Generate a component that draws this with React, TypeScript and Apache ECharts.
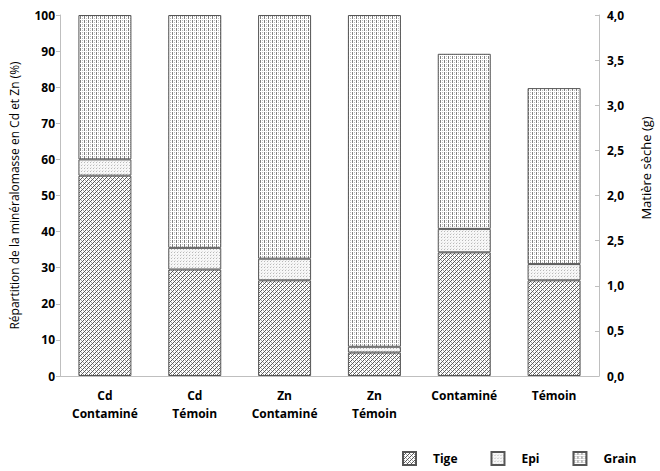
import React, { useEffect, useRef } from "react";
import * as echarts from "echarts";

const categories = ["Cd\nContaminé", "Cd\nTémoin", "Zn\nContaminé", "Zn\nTémoin", "Contaminé", "Témoin"];
// Répartition (%) for the first four categories
const tigePct = [55.5, 29.5, 26.5, 6.5, null, null];
const epiPct = [4.5, 6, 6, 1.6, null, null];
const grainPct = [40, 64.5, 67.5, 91.9, null, null];
// Matière sèche (g) for the last two categories
const tigeG = [null, null, null, null, 1.37, 1.06];
const epiG = [null, null, null, null, 0.26, 0.18];
const grainG = [null, null, null, null, 1.94, 1.95];
const leftTicks = [0, 10, 20, 30, 40, 50, 60, 70, 80, 90, 100];
const rightTickLabels = ["0,0", "0,5", "1,0", "2,5", "2,0", "2,5", "3,0", "3,5", "4,0"];

function makePattern(size: number, fn: (x: number, y: number) => string | null) {
  const c = document.createElement("canvas");
  c.width = size;
  c.height = size;
  const ctx = c.getContext("2d")!;
  ctx.fillStyle = "#ffffff";
  ctx.fillRect(0, 0, size, size);
  for (let y = 0; y < size; y++) {
    for (let x = 0; x < size; x++) {
      const col = fn(x, y);
      if (col) {
        ctx.fillStyle = col;
        ctx.fillRect(x, y, 1, 1);
      }
    }
  }
  return { image: c.toDataURL(), repeat: "repeat" } as any;
}

export default function App() {
  const ref = useRef<HTMLDivElement>(null);
  useEffect(() => {
    if (!ref.current) return;
    const chart = echarts.init(ref.current, undefined, { renderer: "svg" });

    const tigePattern = makePattern(4, (x, y) => {
      if ((x + y) % 4 === 3) return "#5a5a5a";
      if ((x + y) % 4 === 1 && y % 2 === 0) return "#a8a8a8";
      return null;
    });
    const epiPattern = makePattern(3, (x, y) => {
      if (x === 0 && y === 0) return "#b8b8b8";
      if (x === 1 && y === 2) return "#e0e0e0";
      return "#f7f7f7";
    });
    const grainPattern = makePattern(4, (x, y) => {
      if (x === 0 && y !== 3) return "#808080";
      if (x === 2 && y % 2 === 0) return "#bdbdbd";
      return null;
    });

    const font = "'Open Sans', 'Noto Sans', sans-serif";
    const border = { borderColor: "#555555", borderWidth: 1 };
    const barWidth = 53;

    const mk = (name: string, data: (number | null)[], pattern: any, axis: number, stack: string) => ({
      name,
      type: "bar",
      stack,
      yAxisIndex: axis,
      data,
      barWidth,
      barGap: "-100%",
      itemStyle: { color: pattern, ...border },
    });

    chart.setOption({
      animation: false,
      textStyle: { fontFamily: font },
      grid: { left: 56, right: 54, top: 15, bottom: 95 },
      legend: {
        data: ["Tige", "Epi", "Grain"],
        left: 397,
        top: 446,
        icon: "rect",
        itemWidth: 13,
        itemHeight: 13,
        itemGap: 33,
        textStyle: { fontFamily: font, fontWeight: "bold", fontSize: 12, color: "#000", padding: [0, 0, 0, 12] },
      },
      xAxis: {
        type: "category",
        data: categories,
        axisLine: { lineStyle: { color: "#bfbfbf" } },
        axisTick: { lineStyle: { color: "#bfbfbf" }, length: 4 },
        axisLabel: {
          interval: 0,
          margin: 10,
          fontFamily: font,
          fontWeight: "bold",
          fontSize: 12,
          color: "#000",
          lineHeight: 18,
        },
      },
      yAxis: [
        {
          type: "value",
          min: 0,
          max: 100,
          interval: 10,
          name: "Répartition de la minéralomasse en Cd et Zn (%)",
          nameLocation: "middle",
          nameGap: 40,
          nameTextStyle: { fontFamily: font, fontSize: 12, color: "#000" },
          splitLine: { show: false },
          axisLine: { show: true, lineStyle: { color: "#bfbfbf" } },
          axisTick: { show: true, length: 4, lineStyle: { color: "#bfbfbf" } },
          axisLabel: {
            fontFamily: font,
            fontWeight: "bold",
            fontSize: 12,
            color: "#000",
            margin: 5,
            formatter: (v: number) => (leftTicks.includes(v) ? String(v) : ""),
          },
        },
        {
          type: "value",
          min: 0,
          max: 4,
          interval: 0.5,
          position: "right",
          name: "Matière sèche (g)",
          nameLocation: "middle",
          nameGap: 40,
          nameTextStyle: { fontFamily: font, fontSize: 13, color: "#000", padding: [0, 0, 0, 55] },
          splitLine: { show: false },
          axisLine: { show: true, lineStyle: { color: "#bfbfbf" } },
          axisTick: { show: true, inside: true, length: 4, lineStyle: { color: "#bfbfbf" } },
          axisLabel: {
            fontFamily: font,
            fontWeight: "bold",
            fontSize: 12,
            color: "#000",
            margin: 8,
            formatter: (v: number) => rightTickLabels[Math.round(v / 0.5)] ?? "",
          },
        },
      ],
      series: [
        mk("Tige", tigePct, tigePattern, 0, "pct"),
        mk("Epi", epiPct, epiPattern, 0, "pct"),
        mk("Grain", grainPct, grainPattern, 0, "pct"),
        mk("Tige", tigeG, tigePattern, 1, "g"),
        mk("Epi", epiG, epiPattern, 1, "g"),
        mk("Grain", grainG, grainPattern, 1, "g"),
      ],
    });
    return () => chart.dispose();
  }, []);
  return <div ref={ref} style={{ position: "absolute", left: 0, top: 0, width: 660, height: 471 }} />;
}
